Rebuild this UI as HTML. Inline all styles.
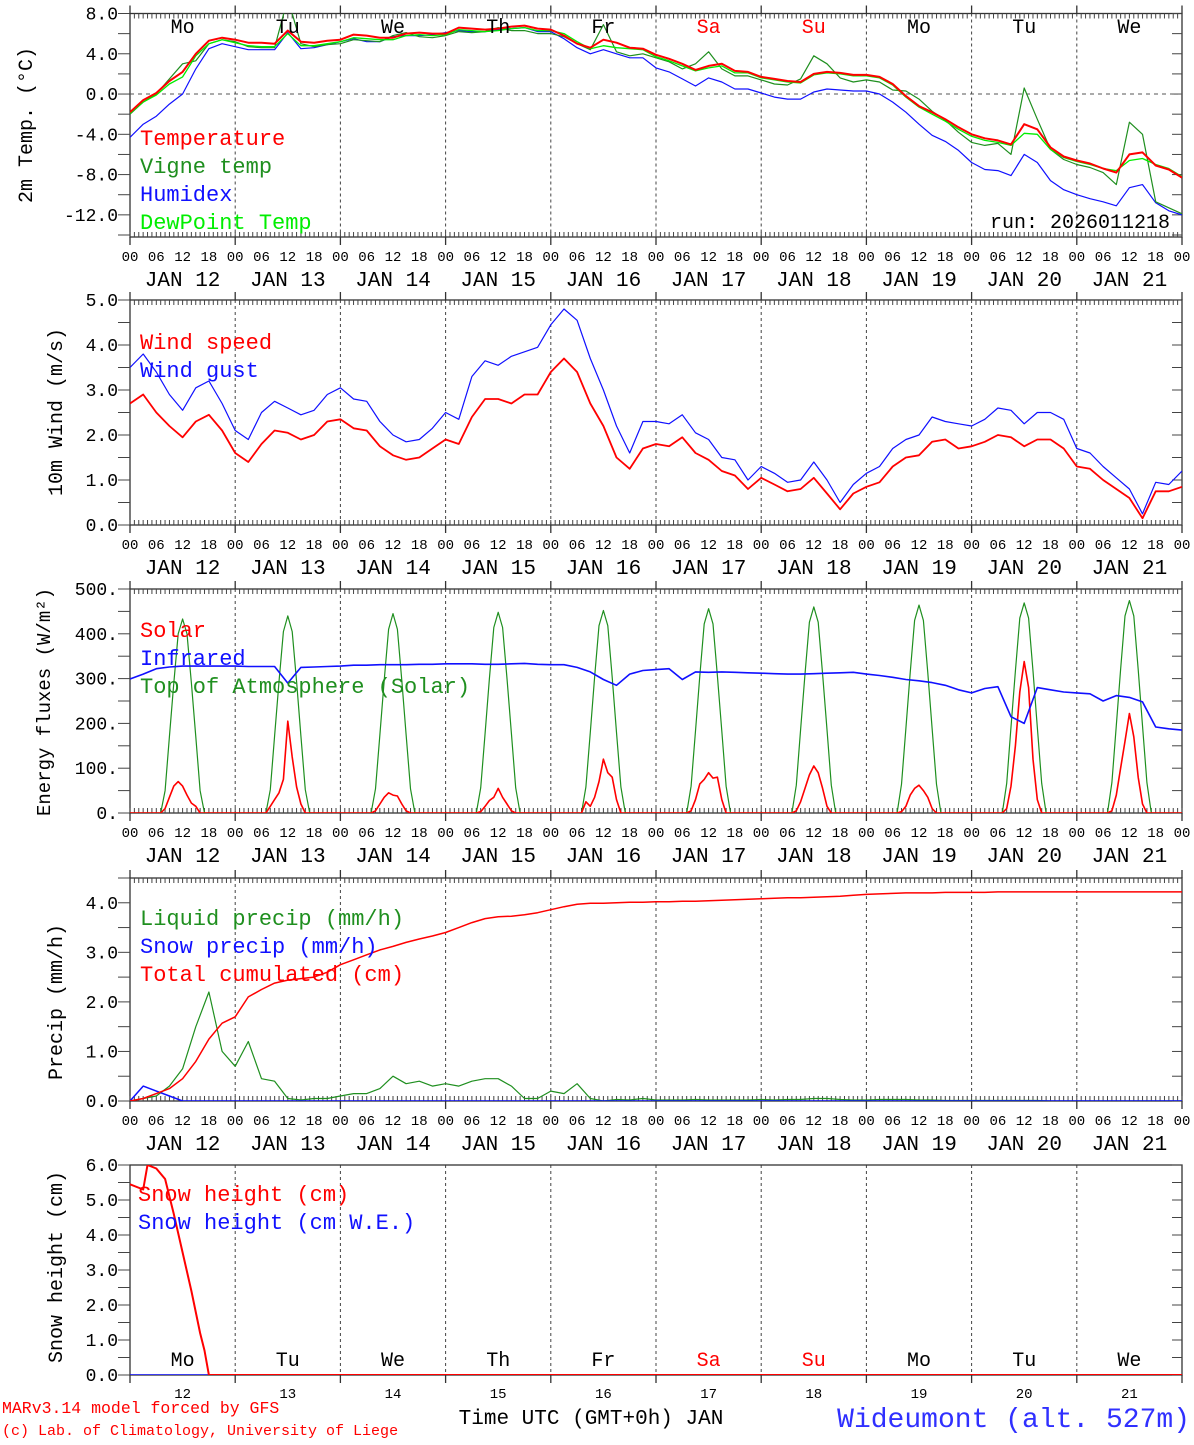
<!DOCTYPE html>
<html><head><meta charset="utf-8"><style>
html,body{margin:0;padding:0;background:#fff;}
svg text{font-family:"Liberation Mono",monospace;}
</style></head><body>
<svg id="chart" xmlns="http://www.w3.org/2000/svg" width="1194" height="1440" viewBox="0 0 1194 1440"></svg>
<script>
// ---------- data (3-hourly, h = 0..240) ----------
const temperature=[-1.8,-0.6,0.1,1.3,2.2,4.0,5.3,5.6, 5.4,5.1,5.1,5.0,6.3,5.2,5.1,5.3, 5.4,5.9,5.8,5.6,5.6,6.0,6.1,6.0, 6.0,6.6,6.5,6.4,6.5,6.7,6.8,6.5, 6.4,5.8,5.0,4.6,5.4,5.1,4.6,4.5, 3.9,3.5,3.0,2.4,2.8,3.0,2.3,2.2, 1.7,1.5,1.3,1.2,2.0,2.2,2.1,1.9, 1.9,1.7,1.0,-0.2,-1.2,-1.8,-2.5,-3.3, -4.0,-4.4,-4.6,-5.0,-3.0,-3.5,-5.3,-6.2, -6.6,-6.9,-7.4,-7.8,-6.0,-5.8,-7.1,-7.5,-8.3];
const vigneTemp=[-2.0,-0.8,0.0,1.5,3.0,3.3,5.0,5.4, 5.2,4.7,4.6,4.6,9.5,5.0,4.7,4.9, 5.0,5.4,5.3,5.2,5.8,6.1,5.7,5.6, 5.8,6.2,6.1,6.2,6.6,6.3,6.3,6.0, 6.0,5.7,5.0,4.4,6.9,4.2,3.8,4.0, 3.6,3.2,2.5,3.0,4.2,2.5,1.8,1.8, 1.4,1.0,0.9,1.5,3.8,3.0,1.6,1.2, 1.4,1.2,0.4,0.3,-0.5,-1.7,-2.6,-3.8, -4.8,-5.1,-4.9,-6.0,0.6,-2.5,-5.5,-6.5, -7.0,-7.3,-7.8,-9.0,-2.8,-4.0,-10.7,-11.3,-11.9];
const humidex=[-4.3,-3.0,-2.2,-1.0,0.0,2.5,4.5,5.0, 4.7,4.4,4.4,4.4,6.1,4.5,4.6,4.9, 5.2,5.5,5.2,5.2,5.7,5.8,5.8,5.9, 6.1,6.3,6.2,6.2,6.4,6.5,6.6,6.2, 6.2,5.5,4.6,4.0,4.4,4.0,3.6,3.6, 2.6,2.2,1.5,0.8,1.6,1.2,0.5,0.5, 0.1,-0.3,-0.5,-0.5,0.2,0.5,0.4,0.3, 0.3,0.0,-0.8,-1.8,-3.0,-4.1,-4.7,-5.6, -6.8,-7.5,-7.6,-8.1,-6.0,-6.8,-8.6,-9.5, -10.0,-10.4,-10.7,-11.1,-9.3,-9.0,-10.8,-11.6,-12.0];
const dewPoint=[-1.9,-0.8,-0.1,1.0,1.7,3.8,5.0,5.4, 5.1,4.8,4.7,4.7,6.0,4.8,4.8,5.0, 5.2,5.6,5.5,5.4,5.4,5.8,5.9,5.8, 5.9,6.4,6.3,6.2,6.3,6.5,6.6,6.3, 6.3,6.0,5.2,4.5,4.8,4.6,4.5,4.4, 3.7,3.3,2.8,2.3,2.6,2.8,2.1,2.1, 1.6,1.4,1.2,1.1,1.9,2.1,2.0,1.8, 1.8,1.6,0.9,-0.3,-1.3,-2.0,-2.7,-3.5, -4.2,-4.6,-4.8,-5.1,-3.9,-4.0,-5.5,-6.3, -6.7,-7.0,-7.4,-7.6,-6.6,-6.4,-7.0,-7.4,-8.2];

const windSpeed=[2.7,2.9,2.5,2.2,1.95,2.3,2.45,2.1, 1.6,1.4,1.8,2.1,2.05,1.9,2.0,2.3, 2.35,2.15,2.1,1.75,1.55,1.45,1.5,1.7, 1.9,1.8,2.4,2.8,2.8,2.7,2.9,2.9, 3.4,3.7,3.4,2.7,2.2,1.5,1.25,1.7, 1.8,1.75,1.95,1.6,1.45,1.2,1.1,0.8, 1.05,0.9,0.75,0.8,1.05,0.7,0.35,0.7, 0.85,0.95,1.3,1.5,1.55,1.85,1.9,1.7, 1.75,1.85,2.0,1.95,1.75,1.9,1.9,1.7, 1.3,1.25,1.0,0.8,0.6,0.15,0.75,0.75,0.85];
const windGust=[3.5,3.8,3.4,2.9,2.55,3.05,3.2,2.7, 2.1,1.9,2.5,2.75,2.6,2.45,2.55,2.9, 3.05,2.8,2.75,2.3,2.0,1.85,1.9,2.15, 2.5,2.35,3.3,3.65,3.55,3.75,3.85,3.95, 4.45,4.8,4.55,3.7,3.0,2.2,1.6,2.3, 2.3,2.25,2.45,2.05,1.9,1.5,1.45,1.0, 1.3,1.15,0.95,1.0,1.4,1.0,0.5,0.9, 1.15,1.3,1.7,1.9,2.0,2.4,2.3,2.25, 2.2,2.35,2.6,2.55,2.25,2.5,2.5,2.35, 1.7,1.6,1.3,1.05,0.8,0.25,0.95,0.9,1.2];

const infrared=[299,310,322,326,328,328,328,328, 328,327,327,327,290,325,326,327, 328,330,330,331,331,331,332,332, 333,333,333,332,332,333,334,332, 331,331,325,315,298,285,310,318, 320,322,298,315,314,315,314,313, 312,311,310,310,311,312,313,314, 310,307,303,298,295,291,285,275, 268,278,282,215,200,280,275,270, 268,266,250,262,258,248,192,188,185];
// daily solar / TOA values for hours 07..17 of each day (JAN 12..21)
const solarDaily=[
 [0,10,35,60,70,60,40,22,15,0,0],
 [0,15,30,45,75,205,125,58,20,0,0],
 [0,5,20,35,45,40,38,20,5,0,0],
 [0,3,15,28,35,55,35,20,5,0,0],
 [0,25,15,35,70,120,90,80,30,0,0],
 [0,5,30,65,75,90,78,80,30,0,0],
 [0,5,25,55,85,105,90,55,15,0,0],
 [0,3,15,40,55,62,50,35,10,0,0],
 [0,10,60,150,270,338,280,120,30,0,0],
 [0,5,40,100,160,222,170,80,20,0,0]];
const toaDaily=[
 [0,50,170,290,400,433,400,290,170,50,0],
 [0,52,172,293,405,440,405,293,172,52,0],
 [0,54,175,296,410,445,410,296,175,54,0],
 [0,56,178,300,414,448,414,300,178,56,0],
 [0,58,180,303,418,452,418,303,180,58,0],
 [0,60,183,306,422,456,422,306,183,60,0],
 [0,62,186,310,426,460,426,310,186,62,0],
 [0,64,189,313,430,464,430,313,189,64,0],
 [0,66,192,317,435,469,435,317,192,66,0],
 [0,68,195,320,440,474,440,320,195,68,0]];

const liquidPrecip=[0,0.05,0.1,0.3,0.65,1.5,2.2,1.0, 0.7,1.2,0.45,0.4,0.05,0.02,0.05,0.05, 0.1,0.15,0.15,0.25,0.5,0.35,0.4,0.3, 0.35,0.3,0.4,0.45,0.45,0.3,0.05,0.05, 0.2,0.15,0.35,0.05,0,0.03,0.02,0.05, 0.02,0.02,0.02,0.03,0.02,0.02,0.02,0.02, 0.03,0.02,0.03,0.03,0.05,0.05,0.03,0.02, 0.02,0.03,0.03,0.03,0.02,0.02,0.01,0.01, 0.01,0.01,0.01,0.01,0.01,0.01,0,0, 0,0,0,0,0,0,0,0,0];
const snowPrecip=[0,0.3,0.2,0.1,0,0,0,0, 0,0,0,0,0,0,0,0, 0,0,0,0,0,0,0,0, 0,0,0,0,0,0,0,0, 0,0,0,0,0,0,0,0, 0,0,0,0,0,0,0,0, 0,0,0,0,0,0,0,0, 0,0,0,0,0,0,0,0, 0,0,0,0,0,0,0,0, 0,0,0,0,0,0,0,0,0];
const totalCumul=[0,0.05,0.15,0.25,0.45,0.8,1.25,1.57, 1.7,2.1,2.25,2.38,2.44,2.47,2.5,2.6, 2.75,2.85,2.95,3.05,3.12,3.2,3.27,3.33, 3.4,3.5,3.6,3.68,3.72,3.73,3.76,3.8, 3.86,3.92,3.97,3.99,3.99,4.0,4.01,4.01, 4.02,4.02,4.03,4.03,4.04,4.05,4.06,4.07, 4.08,4.09,4.1,4.1,4.11,4.12,4.13,4.15, 4.17,4.18,4.19,4.2,4.2,4.2,4.21,4.21, 4.21,4.21,4.22,4.22,4.22,4.22,4.22,4.22, 4.22,4.22,4.22,4.22,4.22,4.22,4.22,4.22,4.22];

const snowHours=[0,3,4,6,8,10,12,14,16,17,18,240];
const snowHeight=[5.45,5.3,6.0,5.9,5.6,4.6,3.5,2.4,1.2,0.7,0,0];
const snowWE=[0,0,0,0,0,0,0,0,0,0,0,0];

const dayNames=["Mo","Tu","We","Th","Fr","Sa","Su","Mo","Tu","We"];
const dayNums=["12","13","14","15","16","17","18","19","20","21"];
const hourLabels=["00","06","12","18"];
const tempTicks=["8.0","4.0","0.0","-4.0","-8.0","-12.0"];
const windTicks=["0.0","1.0","2.0","3.0","4.0","5.0"];
const energyTicks=["0.","100.","200.","300.","400.","500."];
const precipTicks=["0.0","1.0","2.0","3.0","4.0"];
const snowTicks=["0.0","1.0","2.0","3.0","4.0","5.0","6.0"];

// ---------- drawing ----------
const NS="http://www.w3.org/2000/svg";
const svg=document.getElementById('chart');
const X0=130,X1=1182;
function xh(h){return X0+h*(X1-X0)/240;}
function mk(tag,attrs,parent){const e=document.createElementNS(NS,tag);for(const k in attrs)e.setAttribute(k,attrs[k]);(parent||svg).appendChild(e);return e;}
function txt(s,x,y,size,fill,anchor,parent){const t=mk('text',{x:x,y:y,'font-size':size,fill:fill||'#000','text-anchor':anchor||'start'},parent);t.textContent=s;return t;}

const panels=[
 {id:'temp',top:13.5,bot:237,vmin:-14.2,vmax:8,ticks:tempTicks,minor:2,hourTicks:true},
 {id:'wind',top:300,bot:525,vmin:0,vmax:5,ticks:windTicks,minor:0.5,hourTicks:true},
 {id:'energy',top:589,bot:813,vmin:0,vmax:500,ticks:energyTicks,minor:50,hourTicks:true},
 {id:'precip',top:878,bot:1101,vmin:0,vmax:4.5,ticks:precipTicks,minor:0.5,hourTicks:true},
 {id:'snow',top:1165,bot:1375,vmin:0,vmax:6,ticks:snowTicks,minor:0.5,hourTicks:false}];
function yv(p,v){return p.bot-(v-p.vmin)*(p.bot-p.top)/(p.vmax-p.vmin);}

panels.forEach((p,pi)=>{
  const g=mk('g',{});
  
  
  const cp=mk('clipPath',{id:'clip-'+p.id},g);
  mk('rect',{x:X0,y:p.top,width:X1-X0,height:p.bot-p.top},cp);
  // day grid
  for(let d=1;d<10;d++){
    const l=mk('line',{x1:xh(d*24),x2:xh(d*24),y1:p.top,y2:p.bot,stroke:'#444','stroke-width':1,'stroke-dasharray':'3,3'},g);
    
    
  }
  // frame
  const fr=mk('rect',{x:X0,y:p.top,width:X1-X0,height:p.bot-p.top,fill:'none',stroke:'#333','stroke-width':1.3},g);
  
  
  // y ticks
  const yt=mk('g',{},g);
  
  
  const start=Math.ceil(p.vmin/p.minor)*p.minor;
  for(let v=start;v<=p.vmax+1e-9;v+=p.minor){
    const y=yv(p,v);
    mk('line',{x1:X0-12,x2:X0,y1:y,y2:y,stroke:'#444','stroke-width':1},yt);
    mk('line',{x1:X1-10,x2:X1,y1:y,y2:y,stroke:'#444','stroke-width':1},yt);
  }
  p.ticks.forEach(s=>{const v=parseFloat(s);const t=txt(s,118,yv(p,v)+6,18,'#000','end',yt);
    
    });
  if(p.hourTicks){
    for(let h=0;h<=240;h++){
      const L=(h%24===0)?0:5;
      mk('line',{x1:xh(h),x2:xh(h),y1:p.top,y2:p.top+L+(L?0:0),stroke:'#444','stroke-width':1},g);
      mk('line',{x1:xh(h),x2:xh(h),y1:p.bot,y2:p.bot-5,stroke:'#444','stroke-width':1},g);
    }
    for(let d=0;d<=10;d++){
      mk('line',{x1:xh(d*24),x2:xh(d*24),y1:p.top-8,y2:p.top,stroke:'#333','stroke-width':1.3},g);
      mk('line',{x1:xh(d*24),x2:xh(d*24),y1:p.bot,y2:p.bot+8,stroke:'#333','stroke-width':1.3},g);
    }
    const xl=mk('g',{},g);
    
    
    for(let d=0;d<10;d++){
      hourLabels.forEach((s,i)=>{const t=txt(s,xh(d*24+i*6),p.bot+24,14,'#000','middle',xl);
        
        });
      const t=txt('JAN '+dayNums[d],xh(d*24+12),p.bot+49,21,'#000','middle',xl);
      
      
    }
    const t=txt('00',xh(240),p.bot+24,14,'#000','middle',xl);
    
    
  } else {
    for(let d=0;d<=10;d++){
      mk('line',{x1:xh(d*24),x2:xh(d*24),y1:p.bot,y2:p.bot+8,stroke:'#333','stroke-width':1.3},g);
    }
    dayNums.forEach((s,d)=>{const t=txt(s,xh(d*24+12),p.bot+23,14,'#000','middle',g);
      
      });
  }
  p.g=g;
});

function line(p,hours,vals,color,w,name){
  const pts=hours.map((h,i)=>xh(h).toFixed(1)+','+yv(p,vals[i]).toFixed(1)).join(' ');
  const e=mk('polyline',{points:pts,fill:'none',stroke:color,'stroke-width':w,'stroke-linejoin':'round','clip-path':'url(#clip-'+p.id+')'},p.g);
  
  
}
const h3=[];for(let i=0;i<=80;i++)h3.push(i*3);
function expandDaily(daily){const hs=[],vs=[];daily.forEach((arr,d)=>{arr.forEach((v,i)=>{hs.push(d*24+7+i);vs.push(v);});});hs.unshift(0);vs.unshift(0);hs.push(240);vs.push(0);return [hs,vs];}

const RED='#ff0000',DKG='#1f8f1f',LIM='#00ee00',BLU='#1010ff';
// Panel 1
const P1=panels[0];
const z=mk('line',{x1:X0,x2:X1,y1:yv(P1,0),y2:yv(P1,0),stroke:'#555','stroke-dasharray':'4,4','stroke-width':1},P1.g);


line(P1,h3,humidex,BLU,1.2,'humidex-line');
line(P1,h3,vigneTemp,DKG,1.2,'vigne-temp-line');
line(P1,h3,dewPoint,LIM,1.3,'dewpoint-line');
line(P1,h3,temperature,RED,2,'temperature-line');
// Panel 2
line(panels[1],h3,windGust,BLU,1.2,'wind-gust-line');
line(panels[1],h3,windSpeed,RED,1.8,'wind-speed-line');
// Panel 3
const toa=expandDaily(toaDaily), sol=expandDaily(solarDaily);
line(panels[2],toa[0],toa[1],DKG,1.2,'toa-solar-line');
line(panels[2],sol[0],sol[1],RED,1.6,'solar-line');
line(panels[2],h3,infrared,BLU,1.6,'infrared-line');
// Panel 4
line(panels[3],h3,liquidPrecip,DKG,1.2,'liquid-precip-line');
line(panels[3],h3,snowPrecip,BLU,1.5,'snow-precip-line');
line(panels[3],h3,totalCumul,RED,1.5,'total-cumulated-line');
// Panel 5
line(panels[4],snowHours,snowWE,BLU,1.5,'snow-we-line');
line(panels[4],snowHours,snowHeight,RED,2,'snow-height-line');

// day names
dayNames.forEach((s,d)=>{
  const c=(d===5||d===6)?RED:'#000';
  let t=txt(s,xh(d*24+12),33,20,c,'middle');
  
  
  t=txt(s,xh(d*24+12),1366,20,c,'middle');
  
  
});

// legends
function legend(items,x,y0){items.forEach((it,i)=>{const t=txt(it[0],x,y0+i*28,22,it[1],'start');
  
  });}
legend([['Temperature',RED],['Vigne temp',DKG],['Humidex',BLU],['DewPoint Temp',LIM]],140,145);
legend([['Wind speed',RED],['Wind gust',BLU]],140,349);
legend([['Solar',RED],['Infrared',BLU],['Top of Atmosphere (Solar)',DKG]],140,637);
legend([['Liquid precip (mm/h)',DKG],['Snow precip (mm/h)',BLU],['Total cumulated (cm)',RED]],140,925);
legend([['Snow height (cm)',RED],['Snow height (cm W.E.)',BLU]],138,1201);

let t=txt('run: 2026011218',1170,228,20,'#000','end');



// y-axis titles
[['2m Temp. (°C)',32,125,20],['10m Wind (m/s)',62,412,20],['Energy fluxes (W/m²)',50,702,19],['Precip (mm/h)',62,1002,20],['Snow height (cm)',62,1267,20]].forEach(a=>{
  const e=mk('text',{x:0,y:0,'font-size':a[3],fill:'#000','text-anchor':'middle',transform:'translate('+a[1]+','+a[2]+') rotate(-90)'});
  e.textContent=a[0];
  
  
});

t=txt('MARv3.14 model forced by GFS',2,1413,16.5,RED,'start');


t=txt('(c) Lab. of Climatology, University of Liege',2,1435,15,RED,'start');


t=txt('Time UTC (GMT+0h) JAN',591,1424,21,'#000','middle');


t=txt('Wideumont (alt. 527m)',1190,1427,28,'#3030ff','end');


</script>
</body></html>
